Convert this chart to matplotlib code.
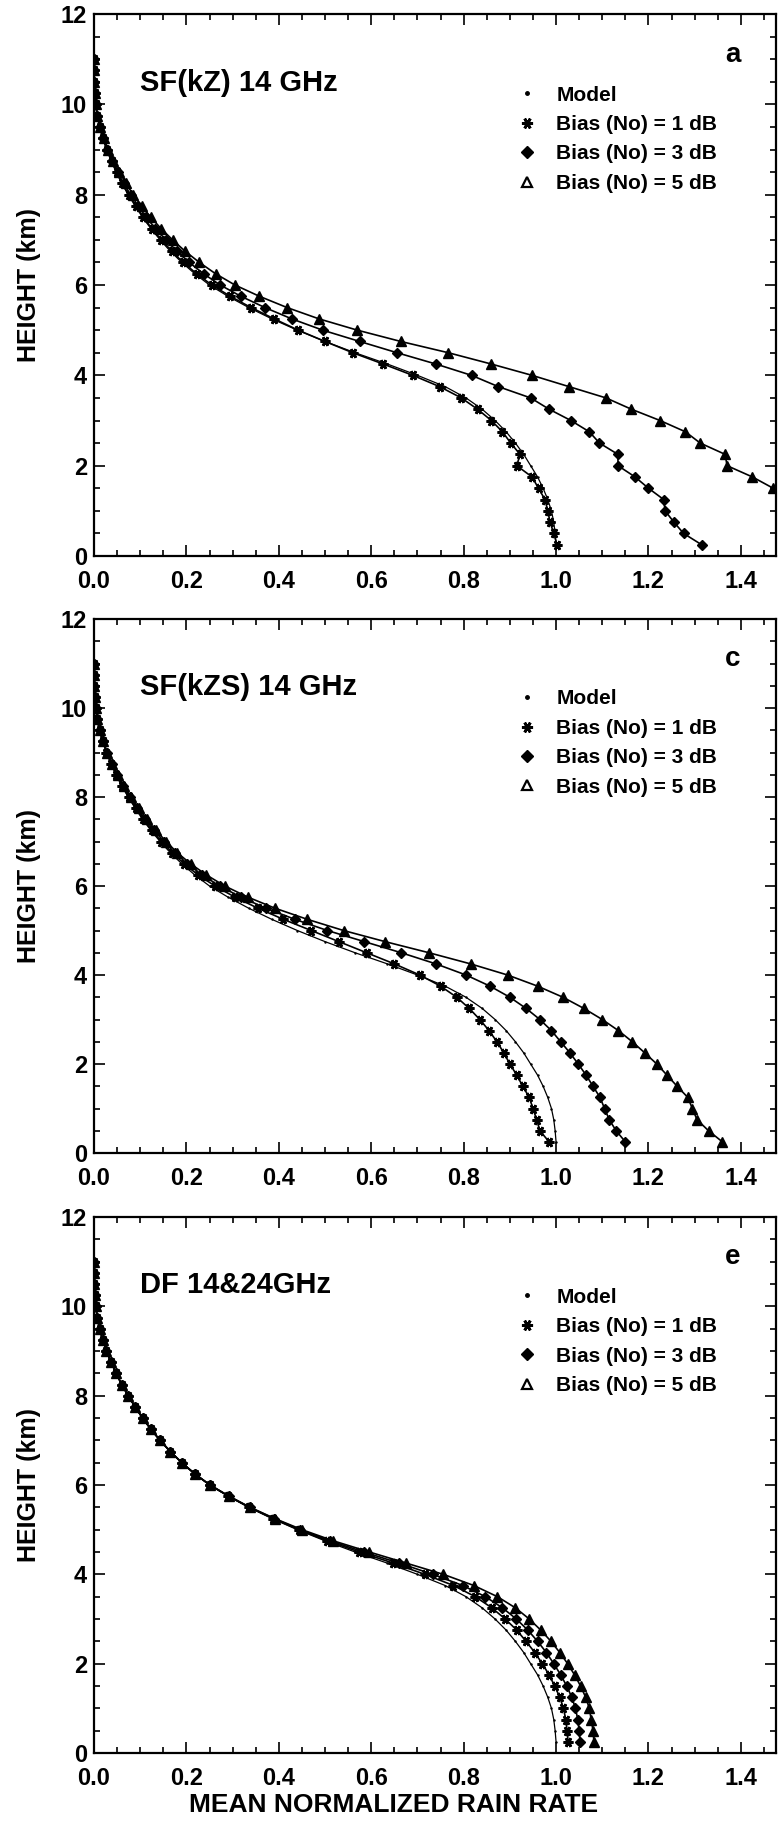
import matplotlib
matplotlib.use("Agg")
import matplotlib.pyplot as plt
from matplotlib.lines import Line2D
from matplotlib.ticker import MultipleLocator

plt.rcParams['font.family'] = ['Liberation Sans', 'DejaVu Sans']

# sampling heights (km) of the retrieved profiles
heights = [0.25, 0.5, 0.75, 1.0, 1.25, 1.5, 1.75, 2.0, 2.25, 2.5, 2.75, 3.0,
           3.25, 3.5, 3.75, 4.0, 4.25, 4.5, 4.75, 5.0, 5.25, 5.5, 5.75, 6.0,
           6.25, 6.5, 6.75, 7.0, 7.25, 7.5, 7.75, 8.0, 8.25, 8.5, 8.75, 9.0,
           9.25, 9.5, 9.75, 10.0, 10.25, 10.5, 10.75, 11.0]

# true (model) normalized rain rate profile
model = [1.000, 0.998, 0.995, 0.990, 0.982, 0.972, 0.960, 0.945, 0.930, 0.912, 0.892, 0.868,
         0.840, 0.805, 0.760, 0.700, 0.635, 0.565, 0.500, 0.440, 0.385, 0.335, 0.290, 0.250,
         0.218, 0.190, 0.165, 0.143, 0.123, 0.105, 0.089, 0.074, 0.060, 0.048, 0.037, 0.027,
         0.019, 0.012, 0.007, 0.004, 0.002, 0.001, 0.000, 0.000]

# (a) SF(kZ) 14 GHz
a_1db = [1.002, 0.995, 0.987, 0.982, 0.976, 0.962, 0.948, 0.915, 0.922, 0.902, 0.884, 0.860,
         0.830, 0.795, 0.748, 0.690, 0.626, 0.560, 0.500, 0.442, 0.390, 0.340, 0.295, 0.255,
         0.222, 0.193, 0.168, 0.146, 0.125, 0.107, 0.091, 0.075, 0.061, 0.049, 0.038, 0.028,
         0.019, 0.012, 0.007, 0.004, 0.002, 0.001, 0.000, 0.000]
a_3db = [1.315, 1.276, 1.255, 1.236, 1.233, 1.200, 1.171, 1.134, 1.134, 1.094, 1.072, 1.032,
         0.985, 0.945, 0.875, 0.817, 0.740, 0.656, 0.575, 0.495, 0.428, 0.370, 0.318, 0.273,
         0.237, 0.206, 0.179, 0.155, 0.133, 0.113, 0.096, 0.079, 0.064, 0.051, 0.039, 0.029,
         0.020, 0.013, 0.007, 0.004, 0.002, 0.001, 0.000, 0.000]
a_5db = [1.620, 1.590, 1.560, 1.540, 1.510, 1.470, 1.425, 1.370, 1.366, 1.312, 1.280, 1.225,
         1.163, 1.108, 1.028, 0.948, 0.860, 0.767, 0.664, 0.570, 0.487, 0.418, 0.358, 0.305,
         0.263, 0.228, 0.197, 0.170, 0.145, 0.123, 0.103, 0.085, 0.069, 0.055, 0.042, 0.031,
         0.021, 0.013, 0.007, 0.004, 0.002, 0.001, 0.000, 0.000]

# (c) SF(kZS) 14 GHz
c_1db = [0.985, 0.965, 0.958, 0.950, 0.942, 0.928, 0.915, 0.900, 0.887, 0.872, 0.855, 0.835,
         0.812, 0.785, 0.750, 0.705, 0.650, 0.590, 0.530, 0.470, 0.410, 0.355, 0.305, 0.262,
         0.225, 0.195, 0.169, 0.146, 0.125, 0.107, 0.091, 0.075, 0.061, 0.048, 0.037, 0.027,
         0.019, 0.012, 0.007, 0.004, 0.002, 0.001, 0.000, 0.000]
c_3db = [1.150, 1.130, 1.115, 1.105, 1.095, 1.080, 1.065, 1.048, 1.030, 1.010, 0.990, 0.965,
         0.935, 0.900, 0.857, 0.805, 0.740, 0.665, 0.585, 0.505, 0.435, 0.372, 0.318, 0.272,
         0.234, 0.202, 0.175, 0.151, 0.130, 0.110, 0.094, 0.078, 0.063, 0.050, 0.038, 0.028,
         0.019, 0.012, 0.007, 0.004, 0.002, 0.001, 0.000, 0.000]
c_5db = [1.360, 1.330, 1.305, 1.295, 1.285, 1.262, 1.240, 1.218, 1.192, 1.165, 1.135, 1.100,
         1.060, 1.015, 0.960, 0.895, 0.815, 0.725, 0.630, 0.540, 0.462, 0.392, 0.333, 0.283,
         0.243, 0.209, 0.180, 0.156, 0.134, 0.114, 0.097, 0.080, 0.065, 0.052, 0.040, 0.029,
         0.020, 0.013, 0.007, 0.004, 0.002, 0.001, 0.000, 0.000]

# (e) DF 14&24GHz
e_1db = [1.026, 1.024, 1.021, 1.016, 1.008, 0.997, 0.985, 0.970, 0.954, 0.935, 0.915, 0.890,
         0.861, 0.825, 0.778, 0.716, 0.648, 0.574, 0.505, 0.443, 0.387, 0.336, 0.291, 0.251,
         0.218, 0.190, 0.165, 0.143, 0.123, 0.105, 0.089, 0.074, 0.060, 0.048, 0.037, 0.027,
         0.019, 0.012, 0.007, 0.004, 0.002, 0.001, 0.000, 0.000]
e_3db = [1.052, 1.050, 1.047, 1.042, 1.034, 1.023, 1.010, 0.995, 0.979, 0.960, 0.939, 0.914,
         0.884, 0.847, 0.798, 0.733, 0.661, 0.584, 0.511, 0.446, 0.389, 0.337, 0.292, 0.251,
         0.218, 0.190, 0.165, 0.143, 0.123, 0.105, 0.089, 0.074, 0.060, 0.048, 0.037, 0.027,
         0.019, 0.012, 0.007, 0.004, 0.002, 0.001, 0.000, 0.000]
e_5db = [1.082, 1.080, 1.076, 1.072, 1.064, 1.053, 1.040, 1.025, 1.008, 0.989, 0.967, 0.942,
         0.912, 0.873, 0.822, 0.756, 0.676, 0.596, 0.518, 0.450, 0.391, 0.338, 0.292, 0.251,
         0.218, 0.190, 0.165, 0.143, 0.123, 0.105, 0.089, 0.074, 0.060, 0.048, 0.037, 0.027,
         0.019, 0.012, 0.007, 0.004, 0.002, 0.001, 0.000, 0.000]

panel_titles = ["SF(kZ) 14 GHz", "SF(kZS) 14 GHz", "DF 14&24GHz"]
panel_letters = ["a", "c", "e"]
legend_labels = ["Model", "Bias (No) = 1 dB", "Bias (No) = 3 dB", "Bias (No) = 5 dB"]

W, H = 778, 1821
fig = plt.figure(figsize=(W / 100, H / 100), dpi=100)

# axes boxes in pixels: (left, top, right, bottom)
boxes = [(94, 14, 776, 556), (94, 619, 776, 1153), (94, 1217, 776, 1753)]

# marker styles on the curves
curve_styles = [
    dict(marker='.', ms=1.5, lw=0.9),
    dict(marker=(6, 2, 90), ms=7, mew=2.0, lw=1.2),
    dict(marker='D', ms=5.5, lw=1.2),
    dict(marker='^', ms=6.5, lw=1.2),
]
# marker styles in the key
key_styles = [
    dict(marker='.', ms=5),
    dict(marker=(6, 2, 90), ms=8, mew=2.0),
    dict(marker='D', ms=6),
    dict(marker='^', ms=7, mew=1.6, mfc='white'),
]

series = [
    (a_1db, a_3db, a_5db),
    (c_1db, c_3db, c_5db),
    (e_1db, e_3db, e_5db),
]

for k, (l, t, r, b) in enumerate(boxes):
    ax = fig.add_axes([l / W, 1 - b / H, (r - l) / W, (b - t) / H])
    profiles = [model] + list(series[k])
    for prof, st in zip(profiles, curve_styles):
        ax.plot(prof, heights, color='black', mec='black', **st)

    ax.set_xlim(0, 1.476)
    ax.set_ylim(0, 12)
    ax.xaxis.set_minor_locator(MultipleLocator(0.05))
    ax.yaxis.set_major_locator(MultipleLocator(2))
    ax.yaxis.set_minor_locator(MultipleLocator(0.5))
    ax.set_xticks([0.0, 0.2, 0.4, 0.6, 0.8, 1.0, 1.2, 1.4])
    ax.set_xticklabels(["0.0", "0.2", "0.4", "0.6", "0.8", "1.0", "1.2", "1.4"])
    ax.tick_params(which='both', direction='in', top=True, right=True, width=1.2)
    ax.tick_params(which='major', length=8)
    ax.tick_params(which='minor', length=4)
    ax.tick_params(axis='x', pad=10, labelsize=17)
    ax.tick_params(axis='y', pad=5, labelsize=17)
    for lab in ax.get_xticklabels() + ax.get_yticklabels():
        lab.set_fontweight('bold')
    for sp in ax.spines.values():
        sp.set_linewidth(1.6)

    ax.set_ylabel("HEIGHT (km)", fontsize=18, fontweight='bold', labelpad=14)

    ax.text(0.067, 0.873, panel_titles[k], transform=ax.transAxes,
            fontsize=21, fontweight='bold', ha='left', va='center')
    ax.text(0.937, 0.925, panel_letters[k], transform=ax.transAxes,
            fontsize=20, fontweight='bold', ha='center', va='center')

    handles = [Line2D([], [], ls='none', color='black', mec='black', **st)
               for st in key_styles]
    ax.legend(handles, legend_labels, loc='upper left', bbox_to_anchor=(0.62, 0.868),
              frameon=False, prop={'size': 15, 'weight': 'bold'}, handlelength=1.0,
              handletextpad=0.9, labelspacing=0.5, borderpad=0, borderaxespad=0)

# shared x-axis title under the bottom panel
fig.text(394 / W, 1 - 1805 / H, "MEAN NORMALIZED RAIN RATE", fontsize=19,
         fontweight='bold', ha='center', va='center')

fig.savefig("out.png", dpi=100)
